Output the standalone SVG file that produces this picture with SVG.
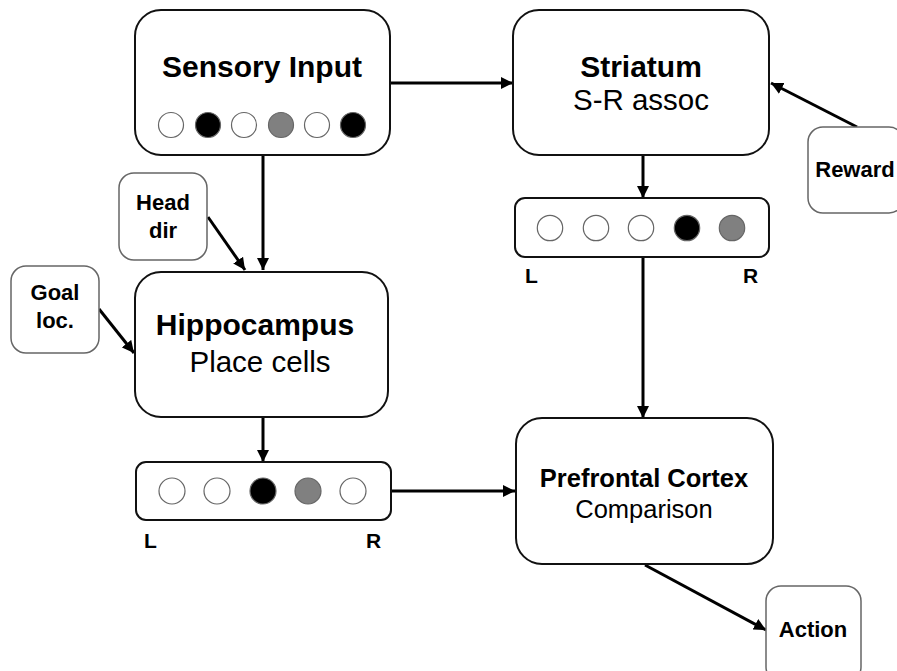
<svg xmlns="http://www.w3.org/2000/svg" width="897" height="671" viewBox="0 0 897 671">
  <defs>
    <marker id="arrow" markerUnits="userSpaceOnUse" markerWidth="13" markerHeight="12" refX="12" refY="6" orient="auto">
      <path d="M0,0 L12,6 L0,12 z" fill="#000"/>
    </marker>
  </defs>
  <style>
    .main { fill: #fff; stroke: #111; stroke-width: 2; }
    .small { fill: #fff; stroke: #666; stroke-width: 1.5; }
    .bar { fill: #fff; stroke: #111; stroke-width: 2; }
    .cell { stroke: #666; stroke-width: 1.2; }
    .off { fill: #fff; }
    .on { fill: #000; }
    .mid { fill: #808080; }
    .conn { stroke: #000; stroke-width: 3; fill: none; marker-end: url(#arrow); }
    text { font-family: "Liberation Sans", Arial, sans-serif; fill: #000; text-anchor: middle; }
    .title { font-size: 30px; font-weight: bold; }
    .sub { font-size: 29.5px; }
    .lbl { font-size: 22px; font-weight: bold; }
    .pfc { font-size: 25.5px; font-weight: bold; }
    .pfc-sub { font-size: 25.5px; }
    .lr { font-size: 21px; font-weight: bold; text-anchor: start; }
  </style>
  <rect width="897" height="671" fill="#fff"/>

  <!-- connectors -->
  <g id="connectors">
    <line class="conn" x1="390" y1="83" x2="513" y2="83"/>
    <line class="conn" x1="263" y1="155" x2="263" y2="270"/>
    <line class="conn" x1="208" y1="217" x2="245" y2="270"/>
    <line class="conn" x1="99" y1="309" x2="134" y2="353"/>
    <line class="conn" x1="857" y1="127" x2="771" y2="83"/>
    <line class="conn" x1="643" y1="155" x2="643" y2="198"/>
    <line class="conn" x1="643" y1="257" x2="643" y2="418"/>
    <line class="conn" x1="263" y1="417" x2="263" y2="462"/>
    <line class="conn" x1="391" y1="491" x2="515" y2="491"/>
    <line class="conn" x1="645" y1="565" x2="766" y2="630"/>
  </g>

  <!-- Sensory Input -->
  <g id="sensory-input">
    <rect class="main" x="135" y="10" width="255" height="145" rx="26"/>
    <text class="title" x="262" y="77">Sensory Input</text>
    <circle class="cell off" cx="171" cy="125" r="12.5"/>
    <circle class="cell on" cx="208" cy="125" r="12.5"/>
    <circle class="cell off" cx="244" cy="125" r="12.5"/>
    <circle class="cell mid" cx="281" cy="125" r="12.5"/>
    <circle class="cell off" cx="317" cy="125" r="12.5"/>
    <circle class="cell on" cx="353" cy="125" r="12.5"/>
  </g>

  <!-- Striatum -->
  <g id="striatum">
    <rect class="main" x="513" y="10" width="256" height="145" rx="26"/>
    <text class="title" x="641" y="77">Striatum</text>
    <text class="sub" x="641" y="110">S-R assoc</text>
  </g>

  <!-- Reward -->
  <g id="reward">
    <rect class="small" x="808" y="127" width="96" height="86" rx="15"/>
    <text class="lbl" x="855" y="177">Reward</text>
  </g>

  <!-- Striatum output -->
  <g id="striatum-output">
    <rect class="bar" x="515" y="198" width="254" height="59" rx="10"/>
    <circle class="cell off" cx="550" cy="228" r="12.7"/>
    <circle class="cell off" cx="596" cy="228" r="12.7"/>
    <circle class="cell off" cx="641" cy="228" r="12.7"/>
    <circle class="cell on" cx="687" cy="228" r="12.7"/>
    <circle class="cell mid" cx="732" cy="228" r="12.7"/>
    <text class="lr" x="525" y="283">L</text>
    <text class="lr" x="743" y="283">R</text>
  </g>

  <!-- Head dir -->
  <g id="head-dir">
    <rect class="small" x="119" y="173" width="88" height="87" rx="15"/>
    <text class="lbl" x="163" y="210">Head</text>
    <text class="lbl" x="163" y="238">dir</text>
  </g>

  <!-- Goal loc. -->
  <g id="goal-loc">
    <rect class="small" x="11" y="266" width="88" height="87" rx="15"/>
    <text class="lbl" x="55" y="300">Goal</text>
    <text class="lbl" x="55" y="328">loc.</text>
  </g>

  <!-- Hippocampus -->
  <g id="hippocampus">
    <rect class="main" x="135" y="272" width="253" height="145" rx="26"/>
    <text class="title" x="255" y="335">Hippocampus</text>
    <text class="sub" x="260" y="372">Place cells</text>
  </g>

  <!-- Hippocampus output -->
  <g id="hippocampus-output">
    <rect class="bar" x="136" y="462" width="255" height="58" rx="10"/>
    <circle class="cell off" cx="172" cy="491" r="13"/>
    <circle class="cell off" cx="217" cy="491" r="13"/>
    <circle class="cell on" cx="263" cy="491" r="13"/>
    <circle class="cell mid" cx="308" cy="491" r="13"/>
    <circle class="cell off" cx="353" cy="491" r="13"/>
    <text class="lr" x="144" y="548">L</text>
    <text class="lr" x="366" y="548">R</text>
  </g>

  <!-- Prefrontal Cortex -->
  <g id="prefrontal-cortex">
    <rect class="main" x="516" y="418" width="257" height="146" rx="26"/>
    <text class="pfc" x="644" y="487">Prefrontal Cortex</text>
    <text class="pfc-sub" x="644" y="518">Comparison</text>
  </g>

  <!-- Action -->
  <g id="action">
    <rect class="small" x="766" y="586" width="95" height="96" rx="15"/>
    <text class="lbl" x="813" y="637">Action</text>
  </g>
</svg>
